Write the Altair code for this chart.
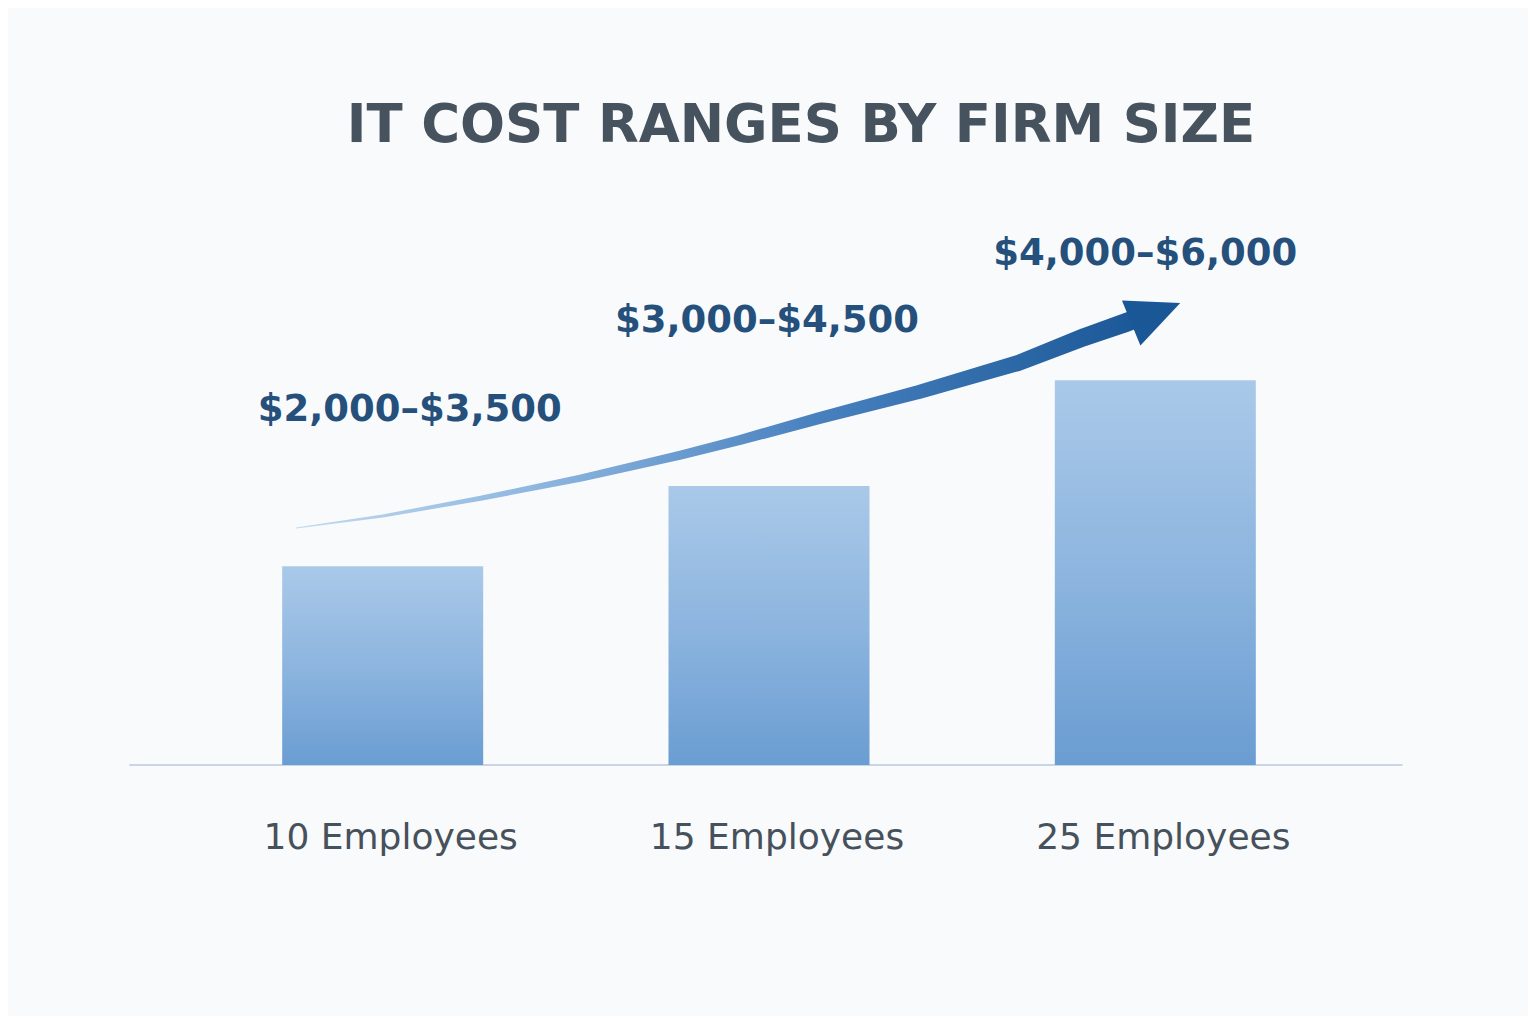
import altair as alt
import pandas as pd

# ---- data ----
categories = ["10 Employees", "15 Employees", "25 Employees"]
positions = [1, 2, 3]
range_labels = ["$2,000–$3,500", "$3,000–$4,500", "$4,000–$6,000"]
bar_values = [2650, 3720, 5130]

# decorative growth arrow (in data space)
arrow_x = [0.776, 1.000, 1.257, 1.514, 1.771, 1.925, 2.131, 2.388, 2.645, 2.817, 2.928, 2.953]
arrow_y = [3160, 3320, 3560, 3827, 4133, 4333, 4627, 4973, 5360, 5707, 5907, 5960]
arrow_w = [1, 3, 5, 7, 9, 10, 12, 14, 16, 18, 19, 19]
head_x = [3.001]
head_y = [6027]

# label layout (pixel offsets, style only)
label_dx = [27, -2, -10]
label_dy = [-156, -165, -126]

bars = pd.DataFrame({"pos": positions, "value": bar_values, "cat": categories,
                     "label": range_labels})
arrow = pd.DataFrame({"x": arrow_x, "y": arrow_y, "w": arrow_w})
head = pd.DataFrame({"x": head_x, "y": head_y})
base = pd.DataFrame({"x": [0.344], "x2": [3.64], "y": [0]})

xs = alt.Scale(domain=[0.1, 3.9], nice=False, zero=False)
ys = alt.Scale(domain=[0, 8000], nice=False)

bar_grad = alt.Gradient(gradient="linear", x1=0, x2=0, y1=0, y2=1,
                        stops=[alt.GradientStop(offset=0, color="#aac9e9"),
                               alt.GradientStop(offset=0.5, color="#8db5df"),
                               alt.GradientStop(offset=1, color="#6a9dd2")])
arrow_grad = alt.Gradient(gradient="linear", x1=0, x2=1, y1=0, y2=0,
                          stops=[alt.GradientStop(offset=0, color="#c3daf0"),
                                 alt.GradientStop(offset=0.3, color="#8ab4de"),
                                 alt.GradientStop(offset=0.6, color="#4a82c0"),
                                 alt.GradientStop(offset=1, color="#1a5796")])

bar_layer = alt.Chart(bars).mark_bar(size=201, color=bar_grad).encode(
    x=alt.X("pos:Q", scale=xs, axis=None),
    y=alt.Y("value:Q", scale=ys, axis=None),
)

baseline = alt.Chart(base).mark_rule(color="#c8d5e6", strokeWidth=2).encode(
    x=alt.X("x:Q", scale=xs, axis=None),
    x2="x2:Q",
    y=alt.Y("y:Q", scale=ys, axis=None),
)

trail = alt.Chart(arrow).mark_trail(color=arrow_grad).encode(
    x=alt.X("x:Q", scale=xs, axis=None),
    y=alt.Y("y:Q", scale=ys, axis=None),
    size=alt.Size("w:Q", scale=None, legend=None),
)

head_layer = alt.Chart(head).mark_point(
    shape="M1,0L-1,-0.92L-1,0.92Z", size=2809, angle=337.8,
    filled=True, color="#1a5796", opacity=1
).encode(
    x=alt.X("x:Q", scale=xs, axis=None),
    y=alt.Y("y:Q", scale=ys, axis=None),
)

value_layers = []
for i in range(len(range_labels)):
    value_layers.append(
        alt.Chart(bars.iloc[[i]]).mark_text(
            font="DejaVu Sans", fontSize=37, fontWeight="bold", color="#25507b",
            baseline="middle", align="center", dx=label_dx[i], dy=label_dy[i]
        ).encode(
            x=alt.X("pos:Q", scale=xs, axis=None),
            y=alt.Y("value:Q", scale=ys, axis=None),
            text="label:N",
        )
    )

cat_labels = alt.Chart(bars).mark_text(
    font="DejaVu Sans", fontSize=36, color="#46515c",
    baseline="middle", align="center", dy=73, dx=8
).encode(
    x=alt.X("pos:Q", scale=xs, axis=None),
    y=alt.datum(0, scale=ys),
    text="cat:N",
)

chart = alt.layer(baseline, bar_layer, trail, head_layer, *value_layers, cat_labels).properties(
    width=1478, height=600,
    autosize=alt.AutoSizeParams(type="none"),
    padding={"left": 22, "top": 157, "right": 20, "bottom": 251},
    background="#f9fafb",
    title=alt.TitleParams("IT COST RANGES BY FIRM SIZE", font="DejaVu Sans", fontSize=53,
                          fontWeight="bold", color="#46525d", anchor="middle",
                          dx=32, offset=12),
).configure_view(stroke=None)

chart.save("out.html", embed_options={"renderer": "svg", "actions": False})
